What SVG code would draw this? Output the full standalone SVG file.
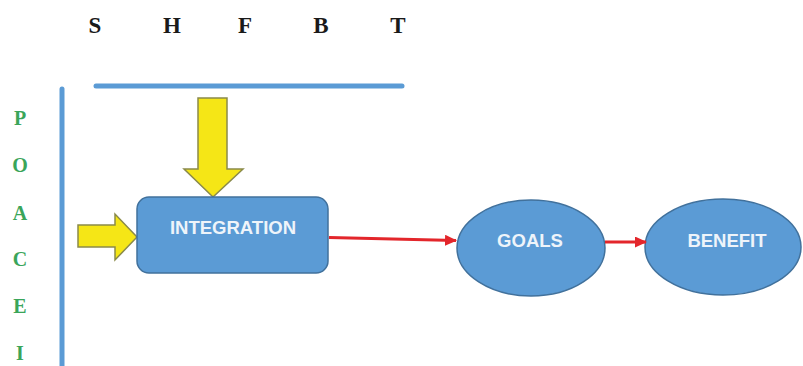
<svg xmlns="http://www.w3.org/2000/svg" width="803" height="366" viewBox="0 0 803 366">
  <style>
    .top { font-family: "Liberation Serif", "Times New Roman", serif; font-weight: bold; font-size: 23px; fill: #1a1a1a; text-anchor: middle; }
    .side { font-family: "Liberation Serif", "Times New Roman", serif; font-weight: bold; font-size: 20px; fill: #3aa55a; text-anchor: middle; }
    .bar { stroke: #5b9bd5; stroke-width: 5; stroke-linecap: round; fill: none; }
    .shape { fill: #5b9bd5; stroke: #41719c; stroke-width: 1.5; }
    .label { font-family: "Liberation Sans", Arial, sans-serif; font-weight: bold; font-size: 18.5px; fill: #eef4fa; text-anchor: middle; }
    .block { fill: #f5e616; stroke: #8a8a4a; stroke-width: 1.5; stroke-linejoin: miter; }
    .link { stroke: #e3262b; stroke-width: 3; fill: none; }
  </style>
  <defs>
    <marker id="redHead" markerWidth="12" markerHeight="11" refX="11" refY="5.5" orient="auto" markerUnits="userSpaceOnUse">
      <path d="M0,0 L12,5.5 L0,11 Z" fill="#e3262b"/>
    </marker>
  </defs>

  <rect width="803" height="366" fill="#ffffff"/>

  <!-- header letters -->
  <g id="header">
    <text class="top" x="95" y="33">S</text>
    <text class="top" x="172" y="33">H</text>
    <text class="top" x="245" y="33">F</text>
    <text class="top" x="321" y="33">B</text>
    <text class="top" x="398" y="33">T</text>
  </g>

  <!-- side letters -->
  <g id="side-labels">
    <text class="side" x="20" y="125">P</text>
    <text class="side" x="20" y="172">O</text>
    <text class="side" x="20" y="220">A</text>
    <text class="side" x="20" y="266">C</text>
    <text class="side" x="20" y="313">E</text>
    <text class="side" x="20" y="360">I</text>
  </g>

  <!-- axis bars -->
  <g id="bars">
    <line class="bar" x1="96" y1="86" x2="402" y2="86"/>
    <line class="bar" x1="62" y1="89" x2="62" y2="370"/>
  </g>

  <!-- input block arrows -->
  <g id="arrow-down">
    <polygon class="block" points="198,98 227,98 227,169 243,169 213,197 184,169 198,169"/>
  </g>
  <g id="arrow-right">
    <polygon class="block" points="78,225 115,225 115,214 137,237 115,260 115,247 78,247"/>
  </g>

  <!-- nodes -->
  <g id="integration">
    <rect class="shape" x="137" y="197" width="191" height="76" rx="12" ry="12"/>
    <text class="label" x="233" y="234">INTEGRATION</text>
  </g>
  <g id="goals">
    <ellipse class="shape" cx="531" cy="248" rx="74" ry="48"/>
    <text class="label" x="530" y="247">GOALS</text>
  </g>
  <g id="benefit">
    <ellipse class="shape" cx="723" cy="247" rx="78" ry="48"/>
    <text class="label" x="727" y="247">BENEFIT</text>
  </g>

  <!-- connectors -->
  <g id="connectors">
    <path class="link" d="M329,237.5 L456,240.5" marker-end="url(#redHead)"/>
    <path class="link" d="M605,242 L646,242" marker-end="url(#redHead)"/>
  </g>
</svg>
